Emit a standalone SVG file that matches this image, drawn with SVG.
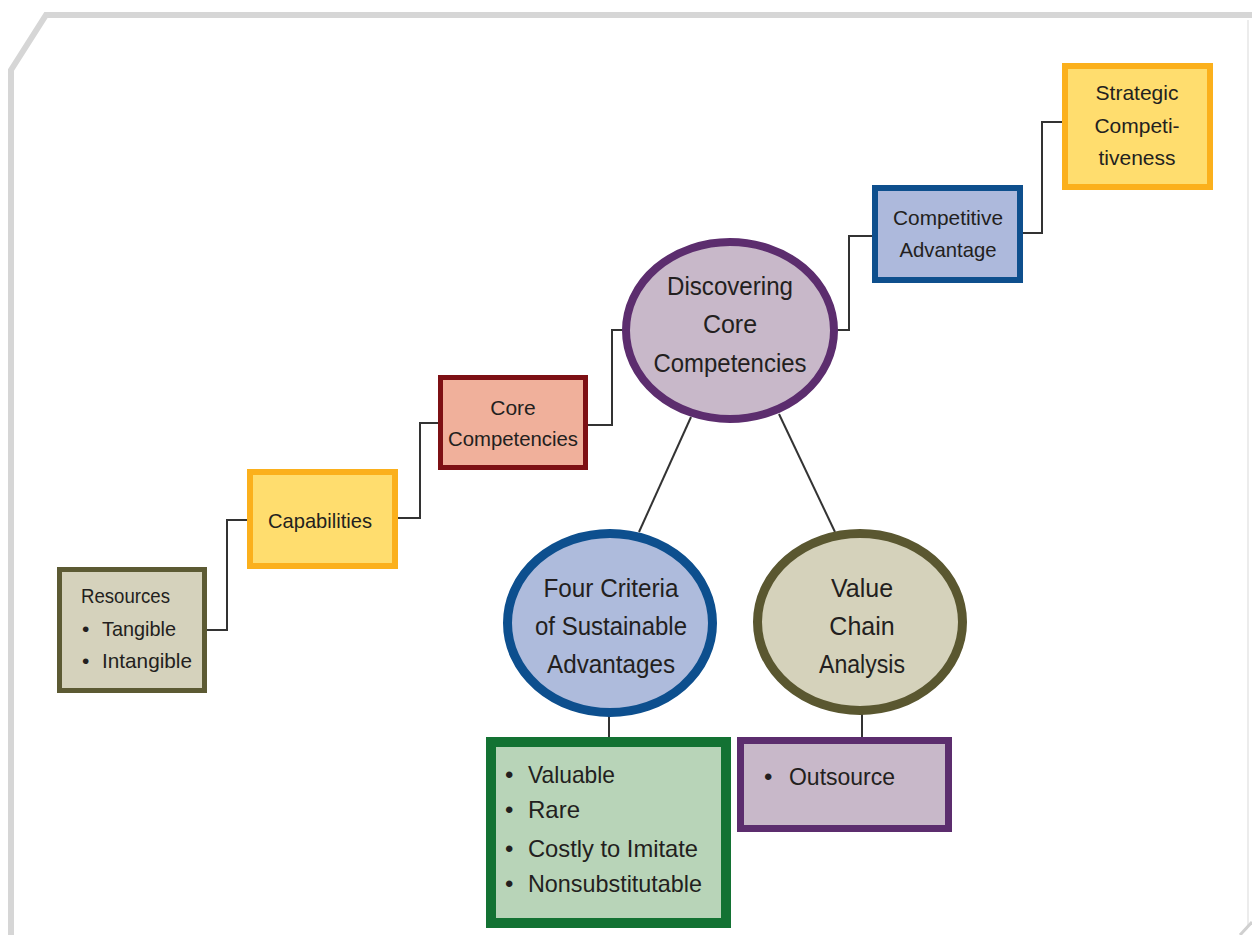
<svg xmlns="http://www.w3.org/2000/svg" width="1252" height="935" viewBox="0 0 1252 935">
<style>
  text { font-family: "Liberation Sans", Arial, sans-serif; fill: #231f20; }
  .c { text-anchor: middle; }
  .conn { fill: none; stroke: #333333; stroke-width: 2; }
  .yellow { fill: #ffdd6e; stroke: #fbb01c; stroke-width: 6; }
</style>
<rect x="0" y="0" width="1252" height="935" fill="#ffffff"/>
<g id="frame">
  <path d="M1252,15 L46,15 L11,70 L11,935" fill="none" stroke="#d6d6d6" stroke-width="6"/>
  <line x1="1248" y1="20" x2="1248" y2="925" stroke="#ececec" stroke-width="2"/>
  <line x1="1252" y1="922" x2="1240" y2="935" stroke="#d0d0d0" stroke-width="3"/>
</g>
<g id="connectors">
  <polyline class="conn" points="207,630 227,630 227,520 247,520"/>
  <polyline class="conn" points="398,518 420,518 420,423 438,423"/>
  <polyline class="conn" points="588,425 612,425 612,330 624,330"/>
  <polyline class="conn" points="836,330 849,330 849,236 872,236"/>
  <polyline class="conn" points="1023,233 1042,233 1042,122 1062,122"/>
  <line class="conn" x1="691" y1="417" x2="639" y2="532"/>
  <line class="conn" x1="779" y1="414" x2="835" y2="532"/>
  <line class="conn" x1="609" y1="716" x2="609" y2="737"/>
  <line class="conn" x1="862" y1="714" x2="862" y2="737"/>
</g>
<g id="resources">
  <rect x="59.5" y="569.5" width="145" height="121" fill="#d5d2bc" stroke="#5c5a33" stroke-width="5"/>
  <text x="81" y="603" font-size="21" textLength="89" lengthAdjust="spacingAndGlyphs">Resources</text>
  <text x="82" y="636" font-size="21">•</text>
  <text x="102" y="636" font-size="21" textLength="74" lengthAdjust="spacingAndGlyphs">Tangible</text>
  <text x="82" y="668" font-size="21">•</text>
  <text x="102" y="668" font-size="21" textLength="90" lengthAdjust="spacingAndGlyphs">Intangible</text>
</g>
<g id="capabilities">
  <rect class="yellow" x="250" y="472" width="145" height="94"/>
  <text class="c" x="320" y="528" font-size="21" textLength="104" lengthAdjust="spacingAndGlyphs">Capabilities</text>
</g>
<g id="core-competencies">
  <rect x="440.5" y="377.5" width="145" height="90" fill="#f0b09b" stroke="#7d1014" stroke-width="5"/>
  <text class="c" x="513" y="415" font-size="21">Core</text>
  <text class="c" x="513" y="446" font-size="21" textLength="130" lengthAdjust="spacingAndGlyphs">Competencies</text>
</g>
<g id="discovering">
  <ellipse cx="730" cy="330.5" rx="104" ry="88.5" fill="#c8b8c9" stroke="#5c2d6e" stroke-width="8"/>
  <text class="c" x="730" y="295" font-size="25" textLength="126" lengthAdjust="spacingAndGlyphs">Discovering</text>
  <text class="c" x="730" y="333" font-size="25">Core</text>
  <text class="c" x="730" y="372" font-size="25" textLength="153" lengthAdjust="spacingAndGlyphs">Competencies</text>
</g>
<g id="competitive-advantage">
  <rect x="875" y="188" width="145" height="92" fill="#adb9dc" stroke="#0e4f8d" stroke-width="6"/>
  <text class="c" x="948" y="225" font-size="21" textLength="110" lengthAdjust="spacingAndGlyphs">Competitive</text>
  <text class="c" x="948" y="257" font-size="21" textLength="97" lengthAdjust="spacingAndGlyphs">Advantage</text>
</g>
<g id="strategic-competitiveness">
  <rect class="yellow" x="1065" y="66" width="145" height="121"/>
  <text class="c" x="1137" y="100" font-size="21">Strategic</text>
  <text class="c" x="1137" y="133" font-size="21">Competi-</text>
  <text class="c" x="1137" y="165" font-size="21">tiveness</text>
</g>
<g id="four-criteria">
  <ellipse cx="610" cy="623" rx="102.5" ry="89.5" fill="#aebbdc" stroke="#0d4f8e" stroke-width="9"/>
  <text class="c" x="611" y="597" font-size="25" textLength="135" lengthAdjust="spacingAndGlyphs">Four Criteria</text>
  <text class="c" x="611" y="635" font-size="25" textLength="152" lengthAdjust="spacingAndGlyphs">of Sustainable</text>
  <text class="c" x="611" y="673" font-size="25" textLength="128" lengthAdjust="spacingAndGlyphs">Advantages</text>
</g>
<g id="value-chain">
  <ellipse cx="860" cy="622" rx="102.5" ry="88.5" fill="#d5d2bb" stroke="#5a5730" stroke-width="9"/>
  <text class="c" x="862" y="597" font-size="25">Value</text>
  <text class="c" x="862" y="635" font-size="25">Chain</text>
  <text class="c" x="862" y="673" font-size="25" textLength="86" lengthAdjust="spacingAndGlyphs">Analysis</text>
</g>
<g id="criteria-list">
  <rect x="491" y="742" width="235" height="181" fill="#b8d4b8" stroke="#137233" stroke-width="10"/>
  <text x="505" y="783" font-size="24">•</text>
  <text x="528" y="783" font-size="24" textLength="87" lengthAdjust="spacingAndGlyphs">Valuable</text>
  <text x="505" y="818" font-size="24">•</text>
  <text x="528" y="818" font-size="24">Rare</text>
  <text x="505" y="857" font-size="24">•</text>
  <text x="528" y="857" font-size="24" textLength="170" lengthAdjust="spacingAndGlyphs">Costly to Imitate</text>
  <text x="505" y="892" font-size="24">•</text>
  <text x="528" y="892" font-size="24" textLength="174" lengthAdjust="spacingAndGlyphs">Nonsubstitutable</text>
</g>
<g id="outsource">
  <rect x="740.5" y="740.5" width="208" height="88" fill="#c8b8c9" stroke="#5c2d6e" stroke-width="7"/>
  <text x="764" y="785" font-size="24">•</text>
  <text x="789" y="785" font-size="24" textLength="106" lengthAdjust="spacingAndGlyphs">Outsource</text>
</g>
</svg>
